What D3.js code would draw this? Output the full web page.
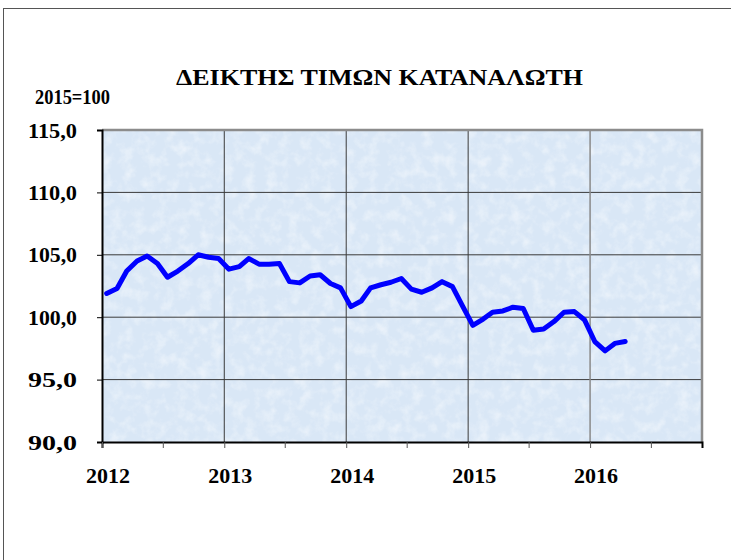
<!DOCTYPE html>
<html>
<head>
<meta charset="utf-8">
<script src="https://cdn.jsdelivr.net/npm/d3@7"></script>
<style>
  body { margin: 0; background: #fff; }
</style>
</head>
<body>
<svg id="canvas" width="731" height="560"></svg>
<script>
// monthly consumer price index, Jan 2012 .. Apr 2016 (2015=100)
let startMonth = '2012-01'
let cpiValues = [
    101.9, 102.3, 103.7, 104.5, 104.9, 104.3, 103.2, 103.7, 104.3, 105.0, 104.8, 104.7,
    103.85, 104.05, 104.7, 104.25, 104.25, 104.3, 102.85, 102.75, 103.3, 103.4, 102.7, 102.35,
    100.85, 101.3, 102.35, 102.6, 102.8, 103.1, 102.25, 102.0, 102.35, 102.85, 102.45, 100.9,
    99.35, 99.85, 100.4, 100.5, 100.8, 100.7, 98.95, 99.05, 99.65, 100.4, 100.45, 99.8,
    98.05, 97.3, 97.9, 98.05
]
let yTicks = [90, 95, 100, 105, 110, 115]
let yearLabels = ['2012', '2013', '2014', '2015', '2016']
let chartTitle = 'ΔΕΙΚΤΗΣ ΤΙΜΩΝ ΚΑΤΑΝΑΛΩΤΗ'
let baseLabel = '2015=100'

let serif = "'Liberation Serif', 'Times New Roman', serif"

let canvas = d3.select('#canvas')

let plotLeft = 102, plotRight = 702, plotTop = 130, plotBottom = 442

let parseMonth = d3.timeParse('%Y-%m')
let first = parseMonth(startMonth)
let points = cpiValues.map((v, i) => {
    let d = d3.timeMonth.offset(first, i)
    return { date: d3.timeDay.offset(d, 14), value: v }
})

let xScale = d3.scaleTime()
    .domain([new Date(2012, 0, 1), new Date(2016, 11, 1)])
    .range([plotLeft, plotRight])

let yScale = d3.scaleLinear()
    .domain([90, 115])
    .range([plotBottom, plotTop])

// outer chart frame (only top and left edges fall inside the picture)
canvas.append('rect')
    .attr('x', 3.5).attr('y', 8.5)
    .attr('width', 900).attr('height', 900)
    .attr('fill', 'none')
    .attr('stroke', '#555')
    .attr('stroke-width', 1)

// textured light blue plot background
let defs = canvas.append('defs')
let filter = defs.append('filter').attr('id', 'paper')
    .attr('x', 0).attr('y', 0).attr('width', 1).attr('height', 1)
filter.append('feTurbulence')
    .attr('type', 'fractalNoise')
    .attr('baseFrequency', 0.09)
    .attr('numOctaves', 3)
    .attr('seed', 4)
    .attr('result', 'noise')
filter.append('feColorMatrix')
    .attr('in', 'noise')
    .attr('type', 'matrix')
    .attr('values', '0 0 0 0 1  0 0 0 0 1  0 0 0 0 1  0 0 0 -2.2 1.25')

canvas.append('rect')
    .attr('x', plotLeft).attr('y', plotTop)
    .attr('width', plotRight - plotLeft).attr('height', plotBottom - plotTop)
    .attr('fill', '#d9e7f6')
canvas.append('rect')
    .attr('x', plotLeft).attr('y', plotTop)
    .attr('width', plotRight - plotLeft).attr('height', plotBottom - plotTop)
    .attr('filter', 'url(#paper)')
    .attr('opacity', 0.45)

// grid lines
canvas.append('g')
    .selectAll('line')
    .data(yTicks.slice(1, -1))
    .enter()
    .append('line')
    .attr('x1', plotLeft).attr('x2', plotRight)
    .attr('y1', (d) => yScale(d)).attr('y2', (d) => yScale(d))
    .attr('stroke', '#3a3a3a')
    .attr('stroke-width', 1)

let yearTicks = xScale.ticks(d3.timeYear.every(1))
canvas.append('g')
    .selectAll('line')
    .data(yearTicks.slice(1))
    .enter()
    .append('line')
    .attr('x1', (d) => xScale(d)).attr('x2', (d) => xScale(d))
    .attr('y1', plotTop).attr('y2', plotBottom)
    .attr('stroke', (d, i) => i == 3 ? '#8a8a8a' : '#3a3a3a')
    .attr('stroke-width', (d, i) => i == 3 ? 1.5 : 1)

// plot border top / right
canvas.append('path')
    .attr('d', `M${plotLeft},${plotTop}H${plotRight}V${plotBottom}`)
    .attr('fill', 'none')
    .attr('stroke', '#8c8c8c')
    .attr('stroke-width', 2.5)

// y axis
let yAxis = d3.axisLeft(yScale)
    .tickValues(yTicks)
    .tickSize(5)
    .tickPadding(20)
    .tickFormat((d) => d3.format('.1f')(d).replace('.', ','))

let yAxisGroup = canvas.append('g')
    .attr('transform', `translate(${plotLeft},0)`)
    .call(yAxis)
yAxisGroup.select('.domain').attr('stroke', '#000').attr('stroke-width', 2)
yAxisGroup.selectAll('.tick line').attr('stroke', '#000')
yAxisGroup.selectAll('text')
    .attr('font-size', 20)
    .attr('font-family', serif)
    .attr('font-weight', 'bold')
    .attr('fill', '#000')
    .attr('dy', '0.35em')
    .attr('textLength', 49)
    .attr('lengthAdjust', 'spacingAndGlyphs')

// x axis: year ticks with half-year minor ticks
let xAxis = d3.axisBottom(xScale)
    .tickValues(xScale.ticks(d3.timeMonth.every(6)))
    .tickSize(6)
    .tickFormat('')

let xAxisGroup = canvas.append('g')
    .attr('transform', `translate(0,${plotBottom})`)
    .call(xAxis)
xAxisGroup.select('.domain').attr('stroke', '#000').attr('stroke-width', 2)
xAxisGroup.selectAll('.tick line').attr('stroke', '#555')

canvas.append('g')
    .selectAll('text')
    .data(yearLabels)
    .enter()
    .append('text')
    .attr('x', (d) => xScale(new Date(+d, 0, 1)) + 6)
    .attr('y', 483)
    .attr('text-anchor', 'middle')
    .attr('font-size', 20)
    .attr('font-family', serif)
    .attr('font-weight', 'bold')
    .attr('textLength', 44)
    .attr('lengthAdjust', 'spacingAndGlyphs')
    .text((d) => d)

// the index line
let line = d3.line()
    .x((d) => xScale(d.date))
    .y((d) => yScale(d.value))

canvas.append('path')
    .datum(points)
    .attr('d', line)
    .attr('fill', 'none')
    .attr('stroke', '#0000ff')
    .attr('stroke-width', 5)
    .attr('stroke-linejoin', 'round')
    .attr('stroke-linecap', 'round')

// titles
canvas.append('text')
    .attr('x', 379.5)
    .attr('y', 85)
    .attr('text-anchor', 'middle')
    .attr('font-size', 23)
    .attr('font-family', serif)
    .attr('font-weight', 'bold')
    .attr('textLength', 407)
    .attr('lengthAdjust', 'spacingAndGlyphs')
    .text(chartTitle)

canvas.append('text')
    .attr('x', 35)
    .attr('y', 104)
    .attr('font-size', 20)
    .attr('font-family', serif)
    .attr('font-weight', 'bold')
    .attr('textLength', 75)
    .attr('lengthAdjust', 'spacingAndGlyphs')
    .text(baseLabel)
</script>
</body>
</html>
